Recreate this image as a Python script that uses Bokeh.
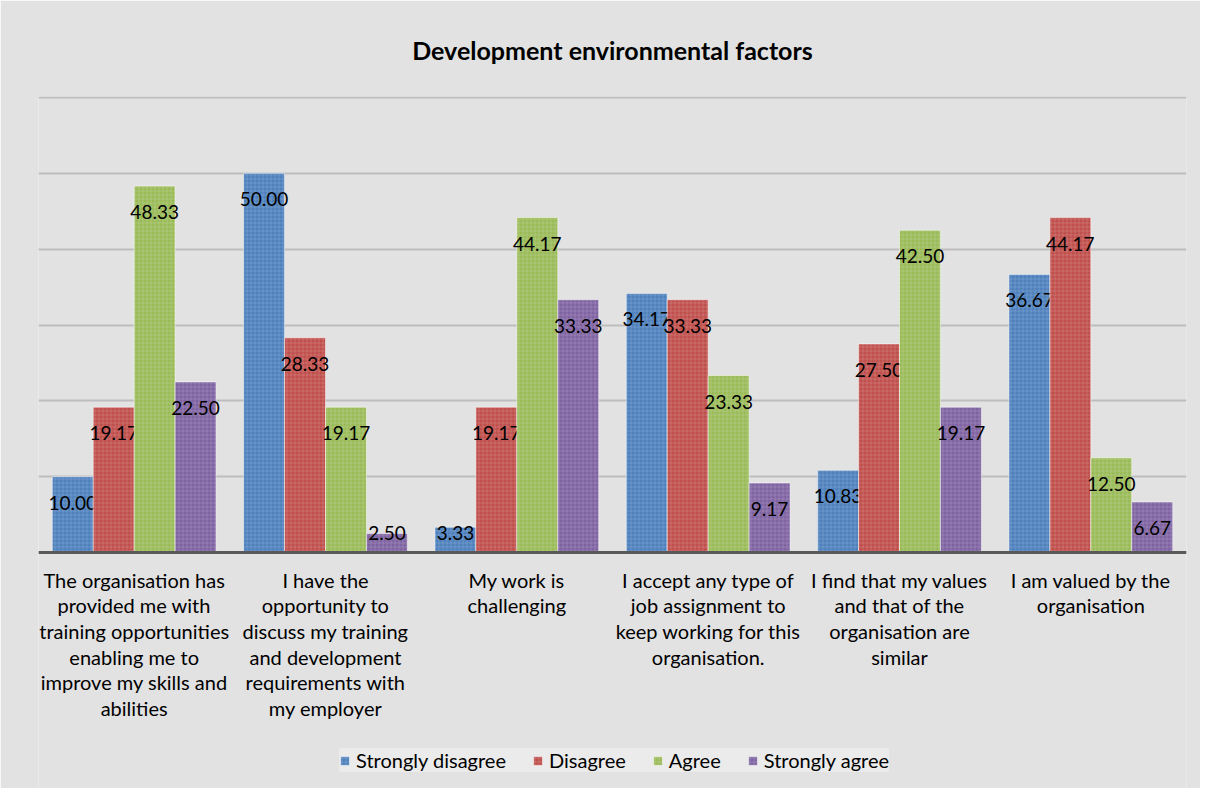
from bokeh.plotting import figure
from bokeh.models import FactorRange, Range1d, FixedTicker, Legend, LegendItem, ColumnDataSource, Span
from bokeh.transform import dodge
from bokeh.core.properties import value
from bokeh.embed import file_html
from bokeh.resources import INLINE

categories = [
    "The organisation has\nprovided me with\ntraining opportunities\nenabling me to\nimprove my skills and\nabilities",
    "I have the\nopportunity to\ndiscuss my training\nand development\nrequirements with\nmy employer",
    "My work is\nchallenging",
    "I accept any type of\njob assignment to\nkeep working for this\norganisation.",
    "I find that my values\nand that of the\norganisation are\nsimilar",
    "I am valued by the\norganisation",
]
series_names = ["Strongly disagree", "Disagree", "Agree", "Strongly agree"]
strongly_disagree = [10.00, 50.00, 3.33, 34.17, 10.83, 36.67]
disagree = [19.17, 28.33, 19.17, 33.33, 27.50, 44.17]
agree = [48.33, 19.17, 44.17, 23.33, 42.50, 12.50]
strongly_agree = [22.50, 2.50, 33.33, 9.17, 19.17, 6.67]
y_ticks = [0, 10, 20, 30, 40, 50, 60]

series = [strongly_disagree, disagree, agree, strongly_agree]
colors = ["#4f81bd", "#c0504d", "#9bbb59", "#8064a2"]
FONT = "Lato"
BG = "#e2e2e2"

# y scale: 0..60 spans 455 px; the frame is extended downward to hold the category labels and legend
PX_PER_UNIT = 455 / 60.0
p = figure(x_range=FactorRange(*categories, range_padding=0),
           y_range=Range1d(-236 / PX_PER_UNIT, 60 + 1 / PX_PER_UNIT),
           frame_width=1148, frame_height=692, output_backend="svg", toolbar_location=None,
           min_border_left=38, min_border_right=14, min_border_top=96, min_border_bottom=0)
p.background_fill_color = BG
p.border_fill_color = BG
p.outline_line_color = None

p.title.text = "Development environmental factors"
p.title.align = "center"
p.title.text_font = FONT
p.title.text_font_size = "25px"
p.title.text_font_style = "bold"
p.title.text_color = "#000000"
p.title.standoff = 63

p.yaxis.visible = False
p.xaxis.visible = False
p.yaxis.ticker = FixedTicker(ticks=y_ticks)
p.ygrid.grid_line_color = "#bdbdbd"
p.ygrid.grid_line_width = 2
p.xgrid.grid_line_color = None

w = 0.214
offsets = [-1.5 * w, -0.5 * w, 0.5 * w, 1.5 * w]
items = []
for name, vals, col, off in zip(series_names, series, colors, offsets):
    lab_y = [max(v - 26 / PX_PER_UNIT, 2.6) for v in vals]
    src = ColumnDataSource(dict(x=categories, top=vals, ly=lab_y, txt=["%.2f" % v for v in vals]))
    r = p.vbar(x=dodge("x", off, range=p.x_range), top="top", bottom=0, width=w, source=src,
               fill_color=col, line_color="white", line_alpha=0.5, line_width=1,
               hatch_pattern="+", hatch_color="white", hatch_alpha=0.14, hatch_scale=4, hatch_weight=1)
    p.text(x=dodge("x", off, range=p.x_range), y="ly", text="txt", source=src,
           text_font=value(FONT), text_font_size="19px", text_color="#000000",
           text_align="center", text_baseline="middle")
    items.append(LegendItem(label=name, renderers=[r]))

# baseline (category axis line)
p.add_layout(Span(location=0, dimension="width", line_color="#595959", line_width=3))

# category labels below the baseline
cat_src = ColumnDataSource(dict(x=categories, y=[-15 / PX_PER_UNIT] * len(categories)))
p.text(x="x", y="y", text="x", source=cat_src, text_font=value(FONT), text_font_size="20px",
       text_color="#000000", text_align="center", text_baseline="top", text_line_height=1.07)

legend = Legend(items=items, orientation="horizontal", location=(301, 16),
                label_text_font=FONT, label_text_font_size="20px", label_text_color="#000000",
                glyph_width=11, glyph_height=11, spacing=26, label_standoff=6, label_height=21,
                background_fill_color="#ebebeb", border_line_color=None, margin=0, padding=11)
p.add_layout(legend, "center")

open("out.html", "w").write(file_html(p, INLINE))
